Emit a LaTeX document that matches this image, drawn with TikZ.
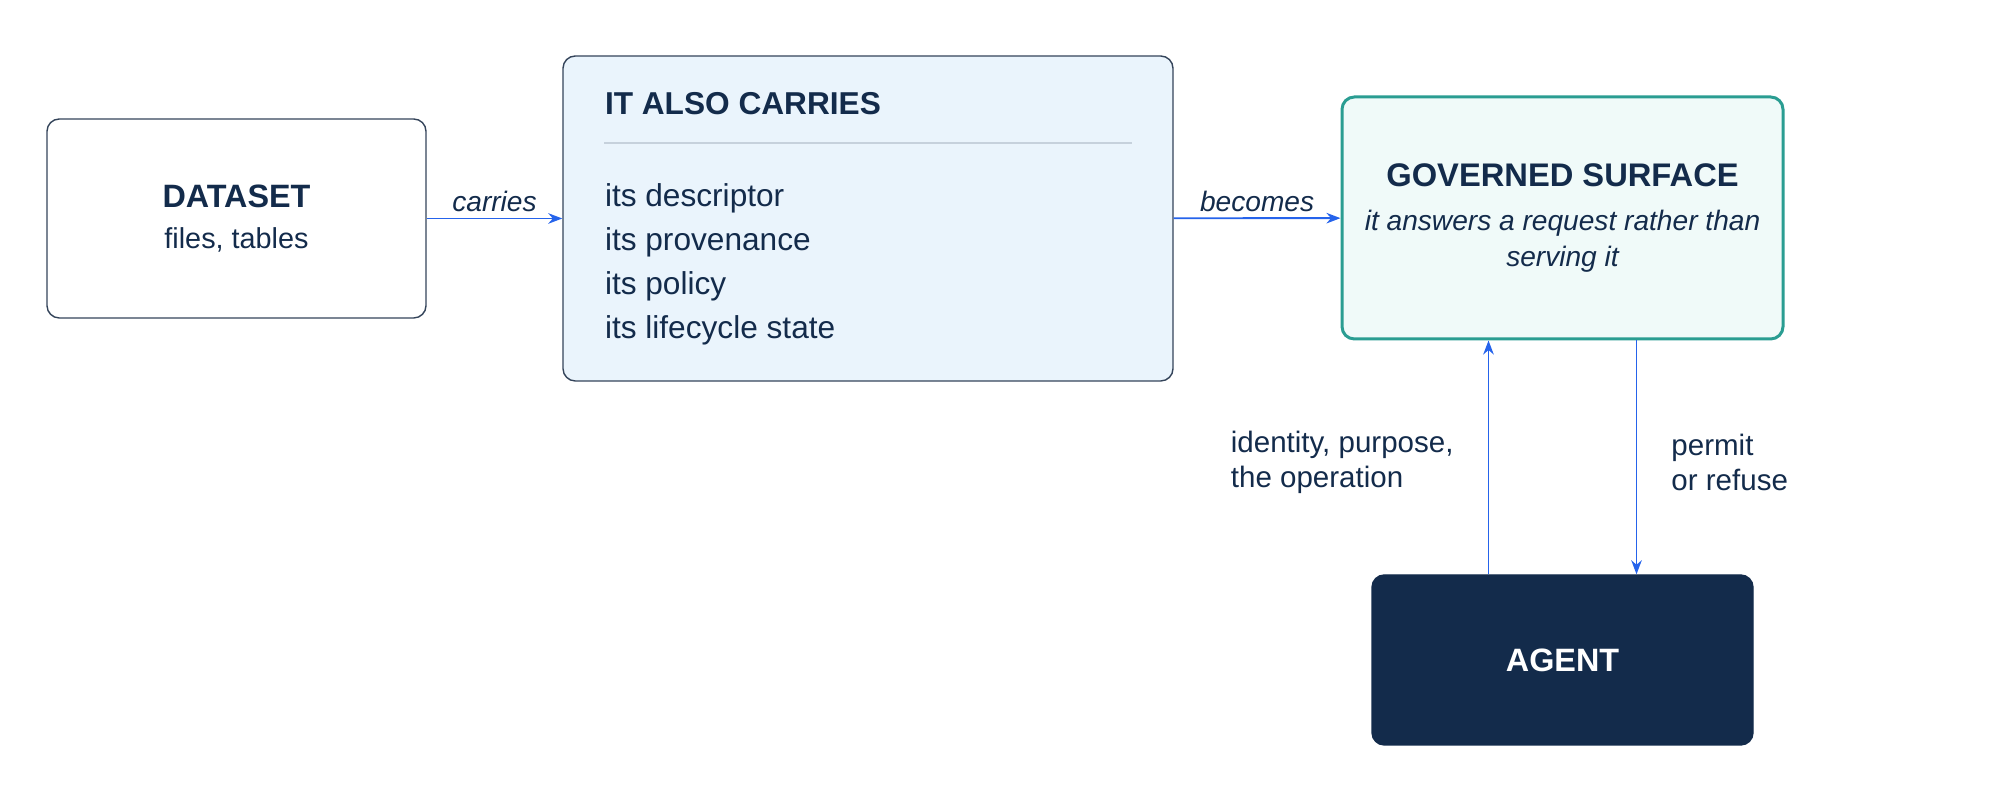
\documentclass[tikz,border=0pt]{standalone}
\usepackage{fontspec}
\setmainfont{Liberation Sans}
\usetikzlibrary{arrows.meta}
\definecolor{ink}{HTML}{132B4B}
\definecolor{edge}{HTML}{34445A}
\definecolor{flow}{HTML}{2563EB}
\definecolor{teal}{HTML}{2A9D92}
\definecolor{carryfill}{HTML}{EAF4FC}
\definecolor{govfill}{HTML}{F0FAF9}
\definecolor{rulec}{HTML}{C6D1DC}
\begin{document}
\begin{tikzpicture}[>={Stealth[length=4pt,width=3pt]},
    box/.style={draw=edge,line width=0.4pt,rounded corners=3.5pt,inner sep=0pt,text=ink,align=center},
    head/.style={font=\fontsize{9.2}{11}\selectfont\bfseries},
    lbl/.style={font=\fontsize{8}{9.4}\selectfont,text=ink,inner sep=0pt},
    side/.style={font=\fontsize{8.4}{9.8}\selectfont,text=ink,inner sep=0pt,align=left},
    link/.style={->,draw=flow,line width=0.55pt}]
    \useasboundingbox (0,0) rectangle (20,8);
    \node[box,minimum width=3.79cm,minimum height=1.99cm,font=\fontsize{8.2}{10.8}\selectfont] (dataset) at (2.365,5.815)
        {{\fontsize{9.2}{10.8}\selectfont\bfseries DATASET}\\[0.7pt]files, tables};
    \node[box,fill=carryfill,minimum width=6.10cm,minimum height=3.25cm] (carries) at (8.68,5.815) {};
    \node[font=\fontsize{9}{11}\selectfont\bfseries,anchor=west,inner sep=0pt,text=ink] (carrieshead) at ([xshift=0.42cm,yshift=-0.486cm]carries.north west) {IT ALSO CARRIES};
    \draw[rulec,line width=0.5pt] ([xshift=0.42cm,yshift=-0.88cm]carries.north west) -- ([xshift=-0.42cm,yshift=-0.88cm]carries.north east);
    \foreach \t [count=\i] in {its descriptor,its provenance,its policy,its lifecycle state}
        \node[anchor=west,inner sep=0pt,text=ink,font=\fontsize{9}{11}\selectfont] (item\i)
            at ([xshift=0.42cm,yshift={-1.435cm-(\i-1)*0.44cm}]carries.north west) {\t};
    \node[box,draw=teal,line width=0.85pt,fill=govfill,minimum width=4.41cm,minimum height=2.42cm,font=\fontsize{8}{10.24}\selectfont] (gov) at (15.625,5.82)
        {{\fontsize{9.3}{10}\selectfont\bfseries GOVERNED SURFACE}\\[2.4pt]{\itshape it answers a request rather than}\\{\itshape serving it}};
    \node[box,head,draw=ink,fill=ink,text=white,minimum width=3.81cm,minimum height=1.70cm] (agent) at (15.625,1.40) {AGENT};
    \draw[link] (dataset) -- node[lbl,above=1.5pt]{\itshape carries} (carries);
    \draw[link] (carries) -- node[lbl,above=1.5pt]{\itshape becomes} (gov);
    \draw[link] ([xshift=-0.74cm]agent.north) -- node[side,left=0.34cm,yshift=-0.05cm]{identity, purpose,\\the operation} ([xshift=-0.74cm]gov.south);
    \draw[link] ([xshift=0.74cm]gov.south) -- node[side,right=0.34cm,yshift=-0.05cm]{permit\\or refuse} ([xshift=0.74cm]agent.north);
\end{tikzpicture}
\end{document}
